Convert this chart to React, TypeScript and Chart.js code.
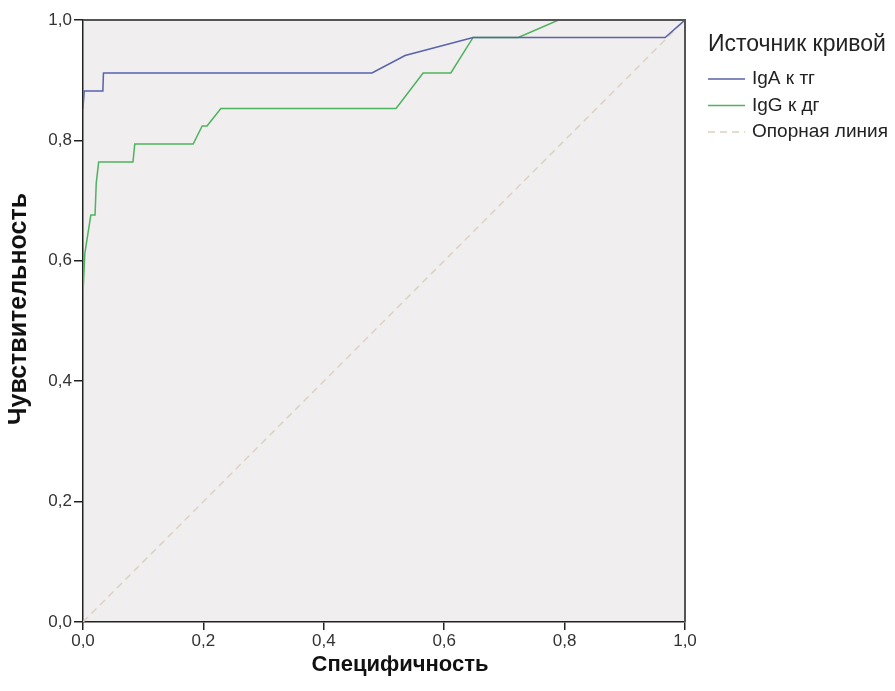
import React, { useEffect, useRef } from "react";
import { Chart, registerables } from "chart.js";

Chart.register(...registerables);

// ROC curve data (1 - specificity on x, sensitivity on y)
const igaX = [0, 0.002, 0.033, 0.034, 0.48, 0.535, 0.648, 0.967, 1.0];
const igaY = [0.853, 0.882, 0.882, 0.912, 0.912, 0.941, 0.971, 0.971, 1.0];

const iggX = [0, 0.003, 0.013, 0.02, 0.022, 0.026, 0.083, 0.086, 0.183, 0.198, 0.206, 0.229, 0.52, 0.565, 0.611, 0.648, 0.723, 0.79, 1.0];
const iggY = [0.545, 0.612, 0.676, 0.676, 0.729, 0.764, 0.764, 0.794, 0.794, 0.824, 0.824, 0.853, 0.853, 0.912, 0.912, 0.971, 0.971, 1.0, 1.0];

const refX = [0, 1];
const refY = [0, 1];

const seriesLabels = ["IgA к тг", "IgG к дг", "Опорная линия"];
const legendTitle = "Источник кривой";
const xTitle = "Специфичность";
const yTitle = "Чувствительность";
const tickValues = [0, 0.2, 0.4, 0.6, 0.8, 1.0];

const FONT = "'Liberation Sans', Arial, sans-serif";

const toPoints = (xs: number[], ys: number[]) => xs.map((x, i) => ({ x, y: ys[i] }));
const fmt = (v: number) => v.toFixed(1).replace(".", ",");

const bgPlugin = {
  id: "plotBg",
  beforeDraw(chart: any) {
    const { ctx, chartArea: a } = chart;
    ctx.save();
    ctx.fillStyle = "#f0eeee";
    ctx.fillRect(a.left, a.top, a.right - a.left, a.bottom - a.top);
    ctx.restore();
  },
  afterDraw(chart: any) {
    const { ctx, chartArea: a } = chart;
    ctx.save();
    ctx.strokeStyle = "#555";
    ctx.lineWidth = 2;
    ctx.beginPath();
    ctx.moveTo(a.left, a.top);
    ctx.lineTo(a.right, a.top);
    ctx.lineTo(a.right, a.bottom);
    ctx.stroke();
    // axis titles, placed as in the original
    ctx.fillStyle = "#111";
    ctx.font = `bold 22px ${FONT}`;
    ctx.textAlign = "center";
    ctx.textBaseline = "middle";
    ctx.fillText(xTitle, (a.left + a.right) / 2 + 16, 665);
    ctx.save();
    ctx.translate(19, (a.top + a.bottom) / 2 - 12);
    ctx.rotate(-Math.PI / 2);
    ctx.font = `bold 25px ${FONT}`;
    ctx.fillText(yTitle, 0, 0);
    ctx.restore();
    ctx.restore();
  },
};

const legendPlugin = {
  id: "customLegend",
  afterDraw(chart: any) {
    const { ctx } = chart;
    const x0 = chart.chartArea.right + 23;
    ctx.save();
    ctx.fillStyle = "#222";
    ctx.textBaseline = "middle";
    ctx.textAlign = "left";
    ctx.font = `23px ${FONT}`;
    ctx.fillText(legendTitle, x0, 45);
    ctx.font = `19px ${FONT}`;
    chart.data.datasets.forEach((ds: any, i: number) => {
      const y = 79 + i * 26.5;
      ctx.strokeStyle = ds.borderColor;
      ctx.lineWidth = 1.5;
      ctx.setLineDash(ds.borderDash || []);
      ctx.beginPath();
      ctx.moveTo(x0, y);
      ctx.lineTo(x0 + 37, y);
      ctx.stroke();
      ctx.setLineDash([]);
      ctx.fillStyle = "#222";
      ctx.fillText(ds.label, x0 + 44, y);
    });
    ctx.restore();
  },
};

export default function App() {
  const canvasRef = useRef<HTMLCanvasElement | null>(null);

  useEffect(() => {
    const canvas = canvasRef.current;
    if (!canvas) return;
    const chart = new Chart(canvas, {
      type: "line",
      data: {
        datasets: [
          {
            label: seriesLabels[0],
            data: toPoints(igaX, igaY),
            borderColor: "#5862ad",
            borderWidth: 1.5,
            pointRadius: 0,
            tension: 0,
            fill: false,
          },
          {
            label: seriesLabels[1],
            data: toPoints(iggX, iggY),
            borderColor: "#4fb25e",
            borderWidth: 1.5,
            pointRadius: 0,
            tension: 0,
            fill: false,
          },
          {
            label: seriesLabels[2],
            data: toPoints(refX, refY),
            borderColor: "#dcd2c0",
            borderWidth: 1.5,
            borderDash: [7, 5],
            pointRadius: 0,
            tension: 0,
            fill: false,
          },
        ],
      },
      options: {
        responsive: false,
        animation: false,
        events: [],
        layout: { padding: { top: 20, right: 210, left: 0, bottom: 0 } },
        plugins: {
          legend: { display: false },
          tooltip: { enabled: false },
        },
        scales: {
          x: {
            type: "linear",
            min: 0,
            max: 1,
            afterBuildTicks: (s: any) => {
              s.ticks = tickValues.map((v) => ({ value: v }));
            },
            afterFit: (s: any) => {
              s.height = 69;
            },
            ticks: {
              callback: (v: any) => fmt(Number(v)),
              font: { family: FONT, size: 17 },
              color: "#333",
              padding: 1,
              maxRotation: 0,
            },
            grid: {
              drawOnChartArea: false,
              drawTicks: true,
              tickLength: 8,
              color: "#222",
              lineWidth: 1.5,
            },
            border: { display: true, color: "#222", width: 1.5 },
            title: { display: false },
          },
          y: {
            type: "linear",
            min: 0,
            max: 1,
            afterBuildTicks: (s: any) => {
              s.ticks = tickValues.map((v) => ({ value: v }));
            },
            afterFit: (s: any) => {
              s.width = 83;
            },
            ticks: {
              callback: (v: any) => fmt(Number(v)),
              font: { family: FONT, size: 17 },
              color: "#333",
              padding: 2,
            },
            grid: {
              drawOnChartArea: false,
              drawTicks: true,
              tickLength: 9,
              color: "#222",
              lineWidth: 1.5,
            },
            border: { display: true, color: "#222", width: 1.5 },
            title: { display: false },
          },
        },
      },
      plugins: [bgPlugin, legendPlugin],
    } as any);
    return () => chart.destroy();
  }, []);

  return (
    <div style={{ position: "absolute", left: 0, top: 0, width: 895, height: 691, background: "#fff" }}>
      <canvas ref={canvasRef} width={895} height={691} style={{ display: "block", width: 895, height: 691 }} />
    </div>
  );
}
